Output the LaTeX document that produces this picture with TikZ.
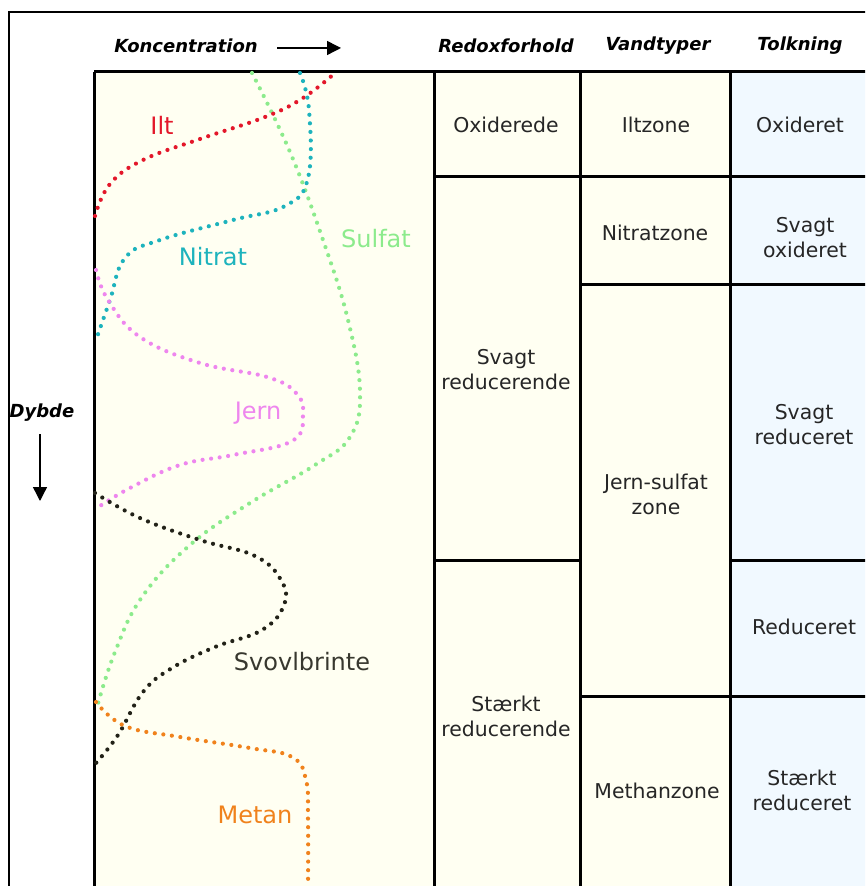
\documentclass[tikz,border=0pt]{standalone}
\usepackage{fontspec}
\setmainfont{DejaVu Sans}[ItalicFont=DejaVu Sans Oblique, BoldFont=DejaVu Sans Bold, BoldItalicFont=DejaVu Sans Bold Oblique]
\usepackage{tikz}
\usetikzlibrary{arrows.meta, positioning}
\definecolor{zoneyellow}{HTML}{FFFFF2}
\definecolor{zoneblue}{HTML}{F1F9FF}
\definecolor{iltred}{HTML}{E3172A}
\definecolor{nitratcyan}{HTML}{1DB3BD}
\definecolor{sulfatgreen}{HTML}{8CEB8C}
\definecolor{jernpink}{HTML}{EE86EE}
\definecolor{svovldark}{HTML}{222218}
\definecolor{metanorange}{HTML}{F0821C}

\begin{document}
\begin{tikzpicture}[
  x=0.5pt, y=-0.5pt,
  gridline/.style={line width=1.5pt, black},
  frameline/.style={line width=1pt, black},
  dotcurve/.style={line width=2.1pt, line cap=round, dash pattern=on 0pt off 4.3pt},
  celltext/.style={font=\fontsize{10.2}{12.5}\selectfont, align=center, inner sep=0pt, color=black!85},
  headtext/.style={font=\fontsize{9}{11}\selectfont\bfseries\itshape, inner sep=0pt},
  curvelabel/.style={font=\fontsize{12}{14}\selectfont, inner sep=0pt},
  axisarrow/.style={line width=0.7pt, -{Triangle[length=7pt, width=7pt]}}
]
  \useasboundingbox (0,0) rectangle (865,886);
  \clip (0,0) rectangle (865,886);

  % Backgrounds of the panel and the three columns
  \fill[zoneyellow] (94,72) rectangle (730,900);
  \fill[zoneblue] (730,72) rectangle (880,900);

  % Outer frame (top and left)
  \draw[frameline] (880,12) -- (9,12) -- (9,900);

  % Column headers
  \node[headtext] (konc) at (186,46) {Koncentration};
  \node[headtext] (redox-head) at (506,46) {Redoxforhold};
  \node[headtext] (vand-head) at (658,46) {Vandtyper};
  \node[headtext] (tolk-head) at (800,46) {Tolkning};
  \node[headtext] (dybde) at (42,413) {Dybde};

  % Axis arrows
  \coordinate (konc-tip) at (341,48);
  \coordinate (dybde-tip) at (40,501);
  \draw[axisarrow] ([xshift=9.5pt, yshift=-1pt]konc.east) -- (konc-tip);
  \draw[axisarrow] ([xshift=-1pt, yshift=-6pt]dybde.south) -- (dybde-tip);

  % Table grid
  \draw[gridline] (94,72) -- (880,72);
  \foreach \xx in {94,434,580,730}
    \draw[gridline] (\xx,72) -- (\xx,900);
  \draw[gridline] (434,177) -- (880,177);
  \draw[gridline] (580,285) -- (880,285);
  \draw[gridline] (434,560) -- (580,560);
  \draw[gridline] (730,560) -- (880,560);
  \draw[gridline] (580,696) -- (880,696);

  % Redoxforhold
  \node[celltext] (redox-ox) at (506,125) {Oxiderede};
  \node[celltext] (redox-svag) at (506,370) {Svagt\\reducerende};
  \node[celltext] (redox-staerk) at (506,716) {Stærkt\\reducerende};

  % Vandtyper
  \node[celltext] (vand-ilt) at (656,125) {Iltzone};
  \node[celltext] (vand-nitrat) at (655,233) {Nitratzone};
  \node[celltext] (vand-jern) at (656,494) {Jern-sulfat\\zone};
  \node[celltext] (vand-methan) at (657,791) {Methanzone};

  % Tolkning
  \node[celltext] (tolk-ox) at (800,125) {Oxideret};
  \node[celltext] (tolk-svagox) at (805,238) {Svagt\\oxideret};
  \node[celltext] (tolk-svagred) at (804,425) {Svagt\\reduceret};
  \node[celltext] (tolk-red) at (804,627) {Reduceret};
  \node[celltext] (tolk-staerk) at (802,790) {Stærkt\\reduceret};

  % Concentration curves
  \draw[dotcurve, sulfatgreen] plot[smooth, tension=0.7] coordinates {
    (252,73) (290,152) (323,240) (348,320) (360,392) (350,437) (315,465)
    (250,503) (190,545) (142,597) (115,652) (97,707)};
  \draw[dotcurve, iltred] plot[smooth, tension=0.7] coordinates {
    (95,216) (110,184) (143,160) (200,139) (265,117) (303,98) (335,73)};
  \draw[dotcurve, nitratcyan] plot[smooth, tension=0.7] coordinates {
    (300,73) (309,110) (308,178) (285,206) (233,220) (160,240) (125,258)
    (110,300) (96,340)};
  \draw[dotcurve, jernpink] plot[smooth, tension=0.7] coordinates {
    (96,270) (108,300) (140,337) (200,363) (267,377) (296,393) (303,415)
    (292,441) (233,455) (180,465) (130,488) (97,508)};
  \draw[dotcurve, svovldark] plot[smooth, tension=0.7] coordinates {
    (95,493) (140,518) (200,540) (255,556) (281,580) (284,605) (262,630)
    (215,647) (172,668) (143,692) (118,735) (96,763)};
  \draw[dotcurve, metanorange] plot[smooth, tension=0.7] coordinates {
    (96,702) (125,726) (180,737) (250,748) (292,757) (306,780) (308,820)
    (308,886)};

  % Curve labels
  \node[curvelabel, text=iltred] (ilt) at (162,125) {Ilt};
  \node[curvelabel, text=nitratcyan] (nitrat) at (213,257) {Nitrat};
  \node[curvelabel, text=sulfatgreen] (sulfat) at (376,239) {Sulfat};
  \node[curvelabel, text=jernpink] (jern) at (258,413) {Jern};
  \node[curvelabel, text=svovldark!90] (svovl) at (302,662) {Svovlbrinte};
  \node[curvelabel, text=metanorange] (metan) at (255,815) {Metan};
\end{tikzpicture}
\end{document}
